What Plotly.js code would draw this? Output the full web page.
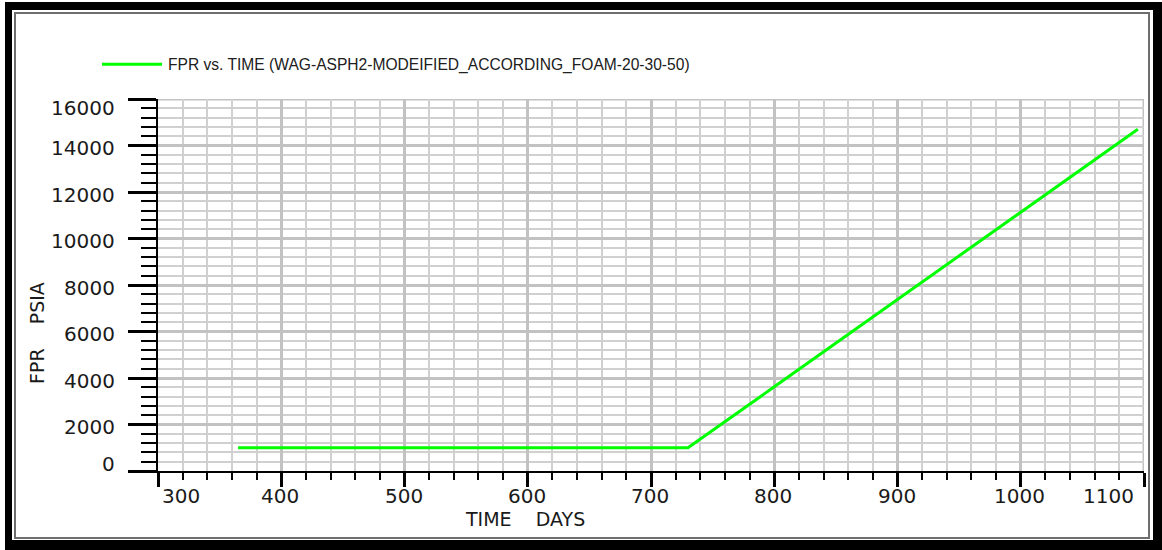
<!DOCTYPE html>
<html>
<head>
<meta charset="utf-8">
<script src="https://cdn.plot.ly/plotly-3.0.1.min.js"></script>
<style>
  html, body { margin: 0; padding: 0; background: #ffffff; }
  #wrap { position: relative; width: 1162px; height: 550px; overflow: hidden; background: #ffffff; }
  #frameOuter { position: absolute; left: 5px; top: 2px; width: 1157px; height: 548px;
    box-sizing: border-box; border-style: solid; border-color: #000;
    border-width: 8px 9px 10px 7px; }
  #frameInner { position: absolute; left: 14px; top: 12px; width: 1136px; height: 527px;
    box-sizing: border-box; border: 2px solid #6e6e6e; }
  #chart { position: absolute; left: 0; top: 0; width: 1162px; height: 550px; }
</style>
</head>
<body>
<div id="wrap">
  <div id="frameOuter"></div>
  <div id="frameInner"></div>
  <div id="chart"></div>
</div>
<script>
// Field pressure history (days vs. psia)
const seriesName = 'FPR vs. TIME (WAG-ASPH2-MODEIFIED_ACCORDING_FOAM-20-30-50)';
const timeDays = [365, 730, 800, 900, 1000, 1095];
const fprPsia  = [1000, 1000, 3620, 7380, 11130, 14700];

// Axis ticks and titles
const xTickVals = [300, 400, 500, 600, 700, 800, 900, 1000, 1100];
const xTickText = ['300', '400', '500', '600', '700', '800', '900', '1000', '1100'];
const yTickVals = [0, 2000, 4000, 6000, 8000, 10000, 12000, 14000, 16000];
const yTickText = ['0', '2000', '4000', '6000', '8000', '10000', '12000', '14000', '16000'];
const xTitle = 'TIME\u00a0\u00a0\u00a0\u00a0DAYS';
const yTitle = 'FPR\u00a0\u00a0\u00a0\u00a0PSIA';

const lineColor = '#00ff00';
const majorGrid = '#c2c2c2';
const minorGrid = '#d0d0d0';
const labelFont = { family: 'DejaVu Sans', size: 20, color: '#1a1a1a' };
const titleFont = { family: 'DejaVu Sans', size: 19, color: '#1a1a1a' };

const trace = {
  x: timeDays,
  y: fprPsia,
  type: 'scatter',
  mode: 'lines',
  name: seriesName,
  line: { color: lineColor, width: 3 },
  showlegend: false
};

const annotations = [];

// x tick labels: the outermost labels are kept inside the frame
xTickVals.forEach((v, i) => {
  let anchor = 'center', shift = -1;
  if (i === 0) { anchor = 'left'; shift = 2; }
  if (i === xTickVals.length - 1) { anchor = 'right'; shift = -8; }
  annotations.push({
    x: v, xref: 'x', y: 0, yref: 'paper',
    text: xTickText[i], showarrow: false,
    xanchor: anchor, yanchor: 'middle', xshift: shift, yshift: -25,
    font: labelFont
  });
});

// y tick labels, right-aligned left of the major ticks
yTickVals.forEach((v, i) => {
  let shift = -2.5;
  if (i === 0) shift = 7;
  if (i === yTickVals.length - 1) shift = -9;
  annotations.push({
    x: 0, xref: 'paper', y: v, yref: 'y',
    text: yTickText[i], showarrow: false,
    xanchor: 'right', yanchor: 'middle', xshift: -41, yshift: shift,
    font: labelFont
  });
});

// axis titles
annotations.push({
  x: 0.372, xref: 'paper', y: 0, yref: 'paper',
  text: xTitle, showarrow: false, xanchor: 'center', yanchor: 'middle',
  yshift: -48, font: titleFont
});
annotations.push({
  x: 0, xref: 'paper', y: 0.3696, yref: 'paper',
  text: yTitle, showarrow: false, textangle: -90,
  xanchor: 'center', yanchor: 'middle', xshift: -121.5, font: titleFont
});

// legend entry
annotations.push({
  x: 0.0081, xref: 'paper', y: 1.0925, yref: 'paper',
  text: seriesName, showarrow: false, xanchor: 'left', yanchor: 'middle',
  font: { family: 'Liberation Sans', size: 15.6, color: '#202020' }
});

const layout = {
  width: 1162,
  height: 550,
  margin: { l: 158, r: 18, t: 99, b: 79 },
  paper_bgcolor: 'rgba(0,0,0,0)',
  plot_bgcolor: '#ffffff',
  showlegend: false,
  xaxis: {
    range: [300, 1100],
    tickmode: 'array', tickvals: xTickVals, showticklabels: false,
    ticks: 'outside', ticklen: 14, tickwidth: 3, tickcolor: '#000',
    showgrid: true, gridcolor: majorGrid, gridwidth: 3,
    showline: true, linecolor: '#000', linewidth: 2,
    zeroline: false,
    minor: { dtick: 20, ticks: 'outside', ticklen: 7, tickwidth: 2, tickcolor: '#000',
             showgrid: true, gridcolor: minorGrid, gridwidth: 2 }
  },
  yaxis: {
    range: [0, 16000],
    tickmode: 'array', tickvals: yTickVals, showticklabels: false,
    ticks: 'outside', ticklen: 28, tickwidth: 3, tickcolor: '#000',
    showgrid: true, gridcolor: majorGrid, gridwidth: 3,
    showline: true, linecolor: '#000', linewidth: 2,
    zeroline: false,
    minor: { dtick: 400, ticks: 'outside', ticklen: 15, tickwidth: 2, tickcolor: '#000',
             showgrid: true, gridcolor: minorGrid, gridwidth: 2 }
  },
  shapes: [
    // grid lines along the top and right edges of the plot
    { type: 'line', xref: 'paper', yref: 'y', layer: 'below',
      x0: 0, x1: 1, y0: yTickVals[yTickVals.length - 1], y1: yTickVals[yTickVals.length - 1],
      line: { color: majorGrid, width: 3 } },
    { type: 'line', xref: 'x', yref: 'paper', layer: 'below',
      x0: xTickVals[xTickVals.length - 1], x1: xTickVals[xTickVals.length - 1], y0: 0, y1: 1,
      line: { color: majorGrid, width: 3 } },
    // legend line sample
    { type: 'line', xref: 'paper', yref: 'paper',
      x0: -0.0568, x1: 0.0041, y0: 1.0933, y1: 1.0933,
      line: { color: lineColor, width: 3 } }
  ],
  annotations: annotations
};

Plotly.newPlot('chart', [trace], layout, { staticPlot: true, displayModeBar: false });
</script>
</body>
</html>
